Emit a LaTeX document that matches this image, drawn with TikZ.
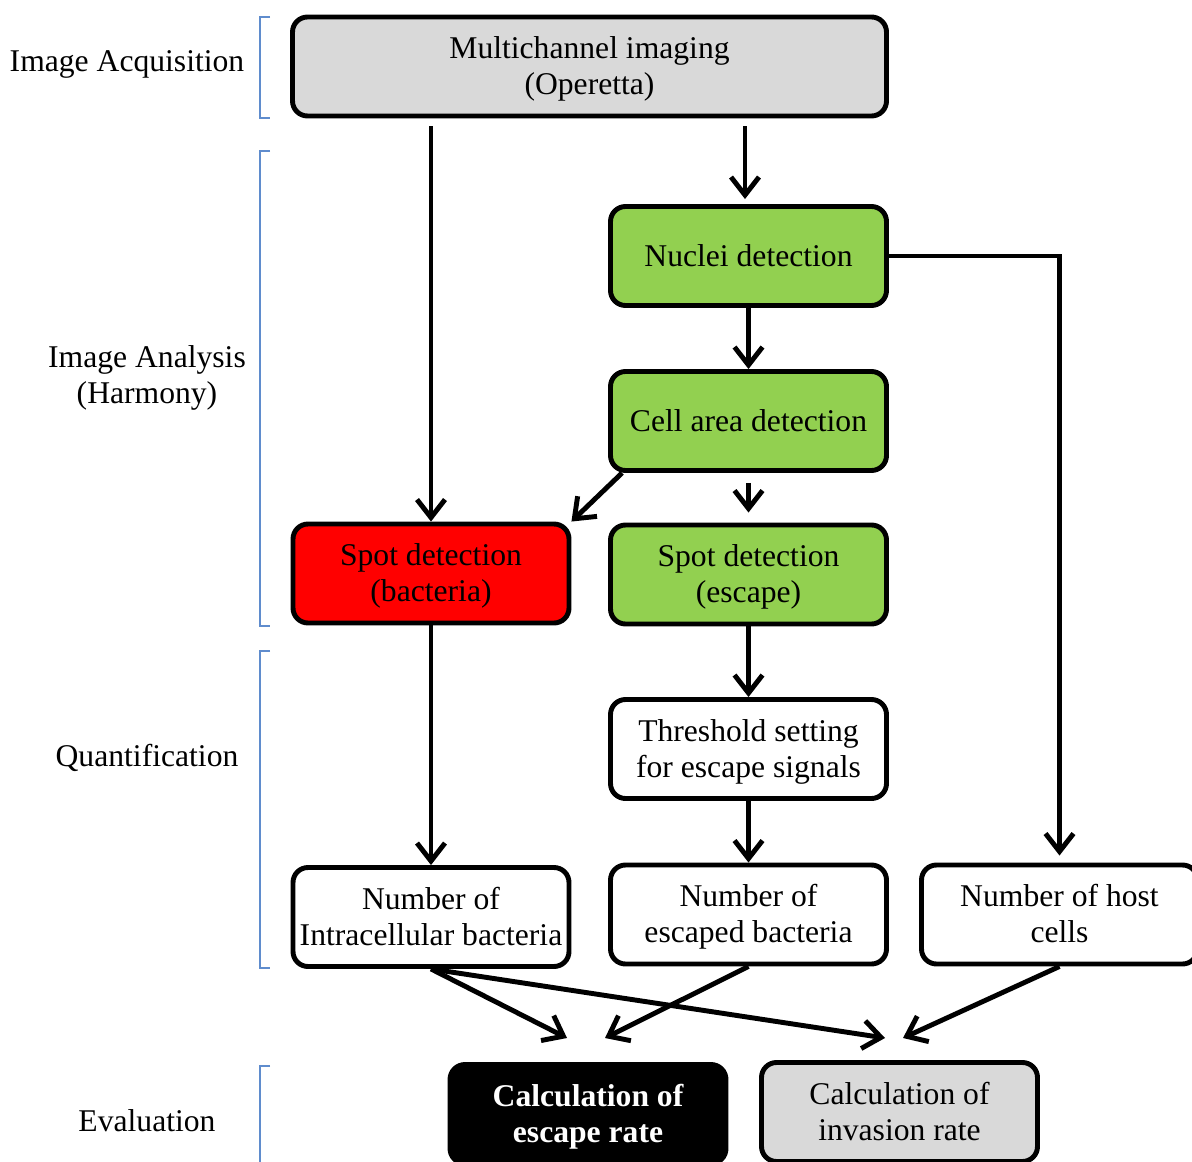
\documentclass[tikz,border=0pt]{standalone}
\usepackage{fontspec}
\setmainfont{Liberation Serif}
\usetikzlibrary{arrows.meta}

\definecolor{boxgray}{RGB}{217,217,217}
\definecolor{boxgreen}{RGB}{146,208,80}
\definecolor{bracketblue}{RGB}{95,140,205}

\begin{document}
\begin{tikzpicture}[
  font=\fontsize{18}{20.6}\selectfont,
  stepnode/.style={draw, line width=2.8pt, rounded corners=0.3cm, align=center,
    minimum width=5.52cm, minimum height=1.98cm, inner sep=2pt, text depth=0.2ex},
  arr/.style={line width=2.8pt, -{Straight Barb[length=0.36cm, width=0.56cm]}},
  brack/.style={draw=bracketblue, line width=0.8pt},
  sidelabel/.style={align=center}
]
\useasboundingbox (0,0) rectangle (23.84,-23.24);

%-------------- Acquisition --------------------
\node [stepnode, fill=boxgray, minimum width=11.88cm] (Acq) at (11.79,-1.33) {Multichannel imaging\\(Operetta)};

%-------------- Analysis --------------------
\node [stepnode, fill=boxgreen] (Nuc) at (14.97,-5.12) {Nuclei detection};
\node [stepnode, fill=boxgreen] (Cell) at (14.97,-8.42) {Cell area detection};
\node [stepnode, fill=red] (Bact) at (8.62,-11.47) {Spot detection\\(bacteria)};
\node [stepnode, fill=boxgreen] (Esc) at (14.97,-11.49) {Spot detection\\(escape)};

%-------------- Quantification --------------------
\node [stepnode] (Thr) at (14.97,-14.98) {Threshold setting\\for escape signals};
\node [stepnode] (NIntra) at (8.62,-18.34) {Number of\\Intracellular bacteria};
\node [stepnode] (NEsc) at (14.97,-18.29) {Number of\\escaped bacteria};
\node [stepnode] (NHost) at (21.19,-18.29) {Number of host\\cells};

%-------------- Evaluation --------------------
\node [stepnode, fill=black, text=white, font=\fontsize{18}{20.6}\selectfont\bfseries] (EscRate) at (11.76,-22.28) {Calculation of\\escape rate};
\node [stepnode, fill=boxgray] (InvRate) at (17.99,-22.24) {Calculation of\\invasion rate};

\coordinate (EscL) at (11.34,-20.76);
\coordinate (EscR) at (12.10,-20.76);
\coordinate (InvL) at (17.70,-20.76);
\coordinate (InvR) at (18.06,-20.76);

%-------------- arrows --------------------
\draw [arr, shorten <=0.16cm] (Acq.south -| Bact.north) -- (Bact.north);
\draw [arr, shorten <=0.16cm, shorten >=0.1cm] (Acq.south -| 14.9,0) -- (Nuc.north -| 14.9,0);
\draw [arr] (Nuc) -- (Cell);
\draw [arr, shorten <=0.2cm, shorten >=0.2cm] (Cell) -- (Esc);
\draw [arr] ([xshift=0.28cm]Cell.south west) -- (Bact.north east);
\draw [arr, shorten >=0.14cm] (Nuc.east) -| (NHost.north);
\draw [arr] (Esc) -- (Thr);
\draw [arr] (Thr) -- (NEsc);
\draw [arr] (Bact) -- (NIntra);
\draw [arr] (NIntra.south) -- (EscL);
\draw [arr] (NIntra.south) -- (InvL);
\draw [arr] (NEsc.south) -- (EscR);
\draw [arr] (NHost.south) -- (InvR);

%-------------- side labels --------------------
\node [sidelabel] (LAcq) at (2.54,-1.28) {Image Acquisition};
\node [sidelabel] (LAna) at (2.94,-7.56) {Image Analysis\\(Harmony)};
\node [sidelabel] (LQua) at (2.94,-15.16) {Quantification};
\node [sidelabel] (LEva) at (2.94,-22.42) {Evaluation};

\draw [brack] (5.40,-0.34) -- (5.20,-0.34) -- (5.20,-2.36) -- (5.40,-2.36);
\draw [brack] (5.40,-3.02) -- (5.20,-3.02) -- (5.20,-12.52) -- (5.40,-12.52);
\draw [brack] (5.40,-13.02) -- (5.20,-13.02) -- (5.20,-19.36) -- (5.40,-19.36);
\draw [brack] (5.40,-21.32) -- (5.20,-21.32) -- (5.20,-23.40);

\end{tikzpicture}
\end{document}
